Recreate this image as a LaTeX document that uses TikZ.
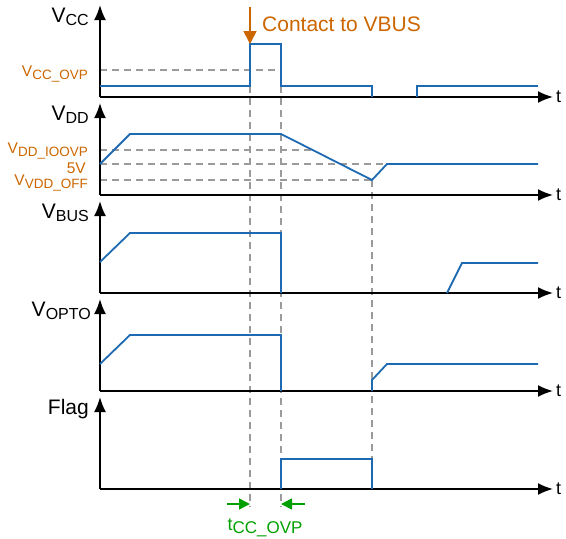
\documentclass[tikz,border=0pt]{standalone}
\usepackage{xcolor}
\usepackage{fontspec}
\setmainfont{Liberation Sans}
\usepackage{tikz}
\usetikzlibrary{arrows.meta, positioning, calc}

\definecolor{sigblue}{RGB}{30,106,178}
\definecolor{lvlorange}{RGB}{204,102,0}
\definecolor{dimgreen}{RGB}{0,160,0}
\definecolor{guidegray}{RGB}{155,155,155}

% axis name with lowered subscript
\newcommand{\axname}[2]{#1\raisebox{-3pt}{\fontsize{16}{17}\selectfont #2}}
% threshold label
\newcommand{\lvlname}[2]{#1\raisebox{-3pt}{\fontsize{13.5}{14}\selectfont #2}}

\begin{document}
\begin{tikzpicture}[
      x=1pt, y=-1pt,
      font=\fontsize{21}{23}\selectfont,
      axis/.style={line width=1.8pt, -{Latex[length=15pt, width=12pt]}},
      wave/.style={sigblue, line width=1.8pt},
      guide/.style={guidegray, line width=1.3pt, dash pattern=on 7pt off 5pt},
      lvl/.style={lvlorange, anchor=base east, inner sep=0pt, font=\fontsize{15.5}{17}\selectfont},
      axlbl/.style={anchor=base east, inner sep=0pt},
      tlbl/.style={anchor=west, inner sep=3pt, font=\fontsize{18}{20}\selectfont},
      evarrow/.style={lvlorange, line width=1.8pt, -{Triangle[length=13pt, width=13pt]}},
      dimarrow/.style={dimgreen, line width=1.6pt, -{Triangle[length=11pt, width=11pt]}},
    ]
    \useasboundingbox (0,0) rectangle (566,539);

    % guide lines first, waves are drawn over them
    \coordinate (g1) at (250,86);  \coordinate (g1e) at (250,507);
    \coordinate (g2) at (281,86);  \coordinate (g2e) at (281,507);
    \coordinate (g3) at (372,180); \coordinate (g3e) at (372,489);
    \draw[guide] (g1) -- (g1e);
    \draw[guide] (g2) -- (g2e);
    \draw[guide] (g3) -- (g3e);
    \draw[guide] (100,70) -- (281,70);
    \draw[guide] (100,150) -- (313,150);
    \draw[guide] (100,164) -- (387,164);
    \draw[guide] (100,180) -- (372,180);

    % axes
    \foreach \n/\b in {1/97, 2/195, 3/293, 4/391, 5/489} {
      \coordinate (o\n) at (100,\b);
      \coordinate (y\n) at (100,\b-92);
      \coordinate (x\n) at (553,\b);
      \draw[axis] (o\n) -- (y\n);
      \draw[axis] (o\n) -- (x\n);
      \node[tlbl] (t\n) at (x\n) {t};
    }

    \node[axlbl] (vcc) at (89,22) {\axname{V}{CC}};
    \node[axlbl] (vdd) at (89,120) {\axname{V}{DD}};
    \node[axlbl] (vbus) at (89,218) {\axname{V}{BUS}};
    \node[axlbl] (vopto) at (91,316) {\axname{V}{OPTO}};
    \node[axlbl] (flag) at (89,414) {Flag};

    \node[lvl] (ccovp) at (88,76) {\lvlname{V}{CC\_OVP}};
    \node[lvl] (ioovp) at (88,153) {\lvlname{V}{DD\_IOOVP}};
    \node[lvl] (fivev) at (86,173) {5V};
    \node[lvl] (vddoff) at (88,185) {\lvlname{V}{VDD\_OFF}};

    % waveforms
    \draw[wave] (100,86) -- (250,86) -- (250,44) -- (281,44) -- (281,86)
                -- (372,86) -- (372,97);
    \draw[wave] (417,97) -- (417,86) -- (538,86);
    \draw[wave] (100,164) -- (130,134) -- (281,134) -- (372,180)
                -- (387,164) -- (538,164);
    \draw[wave] (100,262) -- (130,233) -- (281,233) -- (281,293);
    \draw[wave] (447,293) -- (462,263) -- (538,263);
    \draw[wave] (100,364) -- (130,335) -- (281,335) -- (281,391);
    \draw[wave] (372,391) -- (372,380) -- (387,364) -- (538,364);
    \draw[wave] (281,489) -- (281,459) -- (372,459) -- (372,489);

    % contact event
    \coordinate (ev) at (250,7);
    \coordinate (evtip) at (250,44);
    \draw[evarrow] (ev) -- (evtip);
    \node[lvlorange, anchor=base west, inner sep=0pt] (contact) at (262,31) {Contact to VBUS};

    % tCC_OVP
    \coordinate (ta) at (250,504);
    \coordinate (tb) at (281,504);
    \draw[dimarrow] ([xshift=-23pt]ta) -- (ta);
    \draw[dimarrow] ([xshift=24pt]tb) -- (tb);
    \node[dimgreen, anchor=base, inner sep=0pt, font=\fontsize{18}{20}\selectfont] (tccovp) at (265,530)
      {t\raisebox{-3pt}{\fontsize{17}{19}\selectfont CC\_OVP}};
  \end{tikzpicture}
\end{document}
